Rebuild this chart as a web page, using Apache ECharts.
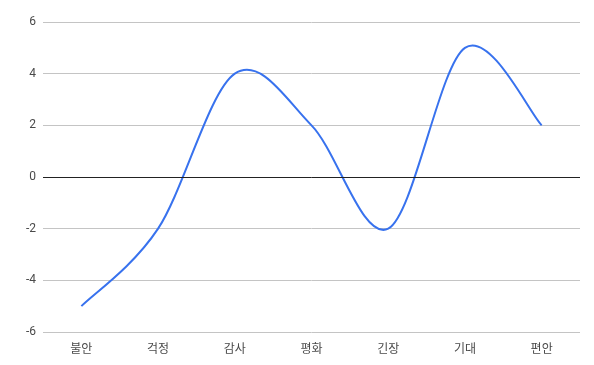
<!DOCTYPE html>
<html><head><meta charset="utf-8">
<script src="https://cdn.jsdelivr.net/npm/echarts@6/dist/echarts.min.js"></script>
<style>html,body{margin:0;padding:0;background:#fff}#c{width:594px;height:365px}</style>
</head><body><div id="c"></div>
<script>
const categories = ['불안','걱정','감사','평화','긴장','기대','편안'];
const values = [-5, -2, 4, 2, -2, 5, 2];
const chart = echarts.init(document.getElementById('c'), null, {renderer:'canvas'});
function renderCurve(params, api) {
  if (params.dataIndex !== 0) return null;
  const n = values.length;
  const pts = [];
  for (let i = 0; i < n; i++) pts.push(api.coord([i, values[i]]));
  let d = 'M' + pts[0][0] + ' ' + pts[0][1];
  for (let i = 0; i < n - 1; i++) {
    const p0 = pts[Math.max(0, i - 1)], p1 = pts[i], p2 = pts[i + 1], p3 = pts[Math.min(n - 1, i + 2)];
    const c1x = p1[0] + (p2[0] - p0[0]) / 6, c1y = p1[1] + (p2[1] - p0[1]) / 6;
    const c2x = p2[0] - (p3[0] - p1[0]) / 6, c2y = p2[1] - (p3[1] - p1[1]) / 6;
    d += ' C' + c1x + ' ' + c1y + ' ' + c2x + ' ' + c2y + ' ' + p2[0] + ' ' + p2[1];
  }
  return {type:'path', shape:{pathData:d}, style:{fill:null, stroke:'#3872ee', lineWidth:2}};
}
chart.setOption({
  animation:false,
  textStyle:{fontFamily:'Roboto, "Noto Sans CJK KR", sans-serif'},
  grid:{left:43,right:14,top:22,bottom:33,containLabel:false},
  xAxis:{type:'category',data:categories,boundaryGap:true,
    axisLine:{show:false},axisTick:{show:false},
    axisLabel:{color:'#4a4a4a',fontSize:12,margin:10,fontFamily:'"Noto Sans CJK KR", sans-serif'}},
  yAxis:{type:'value',min:-6,max:6,interval:2,
    axisLine:{show:false},axisTick:{show:false},
    axisLabel:{color:'#4a4a4a',fontSize:12,margin:7},
    splitLine:{lineStyle:{color:'#c4c4c4',width:1}}},
  series:[
    {type:'custom',data:values.map((v,i)=>[i,v]),renderItem:renderCurve,
     encode:{x:0,y:1},clip:false},
    {type:'line',data:[],
     markLine:{silent:true,symbol:'none',label:{show:false},
       lineStyle:{color:'#222',type:'solid',width:1},data:[{yAxis:0}]}}
  ]
});
</script></body></html>
